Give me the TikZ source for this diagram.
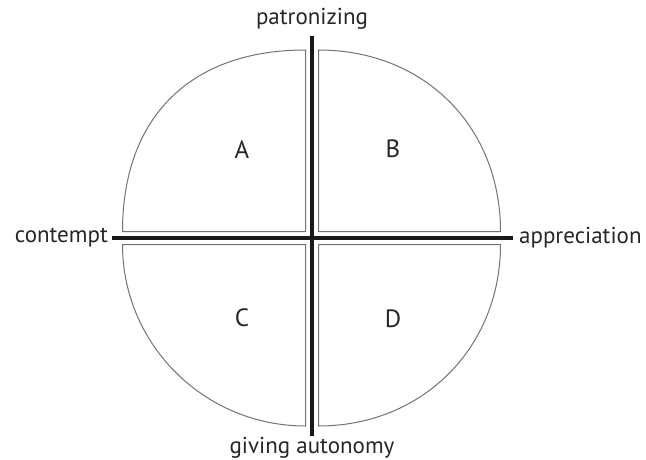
\documentclass[tikz,border=0pt]{standalone}
\usepackage{fontspec}
\setmainfont{PT Sans}
\usetikzlibrary{positioning}

\begin{document}
\begin{tikzpicture}[
    x=1pt, y=-1pt,
    quad/.style={draw=black!55, line width=1pt},
    axis/.style={draw=black!90, line width=4.5pt},
    pole/.style={font=\fontsize{23}{28}\selectfont, text=black!85, inner sep=0pt},
    tag/.style={font=\fontsize{25}{30}\selectfont, text=black!85, inner sep=0pt},
  ]
  \useasboundingbox (0,0) rectangle (646,460);

  % the four quadrants
  \draw[quad] (305.5,50) -- (305.5,231.5) -- (122.5,231.5)
    .. controls (122.5,117.2) and (190.2,50) .. cycle;
  \draw[quad] (318.5,50) -- (318.5,231.5) -- (500.5,231.5)
    .. controls (500.5,126.2) and (424.1,50) .. cycle;
  \draw[quad] (122.5,244.5) -- (305.5,244.5) -- (305.5,426)
    .. controls (204.5,426) and (122.5,344.7) .. cycle;
  \draw[quad] (318.5,244.5) -- (500.5,244.5)
    .. controls (500.5,348) and (422.2,426) .. (318.5,426) -- cycle;

  \node[tag] (qA) at (242,150) {A};
  \node[tag] (qB) at (393,149) {B};
  \node[tag] (qC) at (242,318) {C};
  \node[tag] (qD) at (393,319) {D};

  % axes
  \coordinate (top) at (312,36);
  \coordinate (bot) at (312,436);
  \coordinate (lft) at (112,238);
  \coordinate (rgt) at (513,238);
  \draw[axis] (lft) -- (rgt);
  \draw[axis] (top) -- (bot);

  \node[pole, above=6pt of top] (patron) {patronizing};
  \node[pole, below=1pt of bot] (auton) {giving autonomy};
  \node[pole, left=4pt of lft] (contempt) {contempt};
  \node[pole, right=6pt of rgt] (apprec) {appreciation};
\end{tikzpicture}
\end{document}
